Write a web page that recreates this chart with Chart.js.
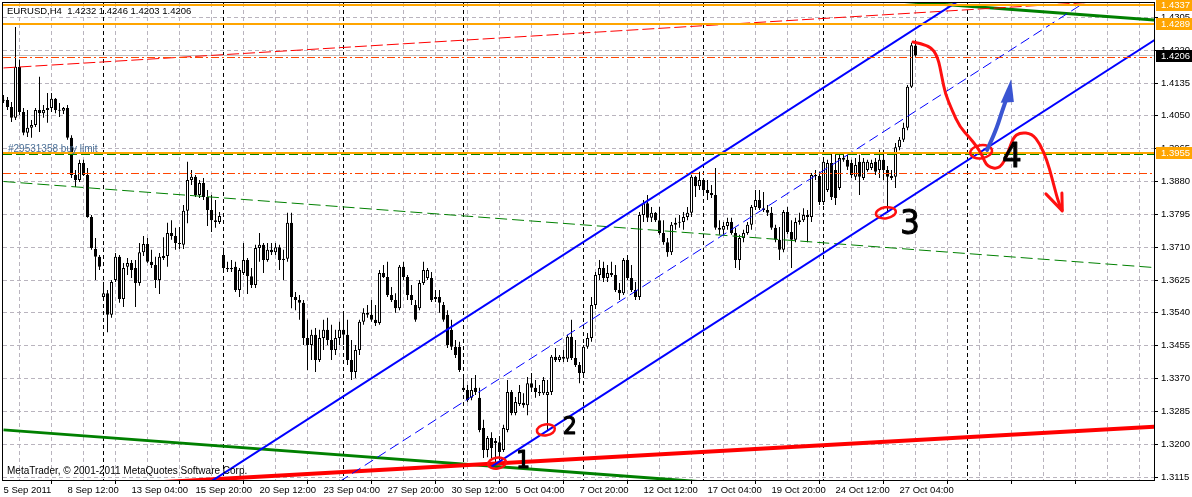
<!DOCTYPE html>
<html>
<head>
<meta charset="utf-8">
<title>EURUSD H4</title>
<script src="https://cdn.jsdelivr.net/npm/chart.js@4.4.1/dist/chart.umd.min.js"></script>
<style>
html,body{margin:0;padding:0;background:#fff;overflow:hidden;}
#wrap{position:relative;width:1192px;height:497px;}
canvas{display:block;}
</style>
</head>
<body>
<div id="wrap"><canvas id="chart" width="1192" height="497"></canvas></div>
<script>
// ================= DATA =================
const symbol = 'EURUSD,H4';
const timeLabels = ['5 Sep 2011','8 Sep 12:00','13 Sep 04:00','15 Sep 20:00','20 Sep 12:00','23 Sep 04:00','27 Sep 20:00','30 Sep 12:00','5 Oct 04:00','7 Oct 20:00','12 Oct 12:00','17 Oct 04:00','19 Oct 20:00','24 Oct 12:00','27 Oct 04:00'];
const barsPerLabel = 16;
const barsPerGrid = 8;
const yTicks = [1.3115,1.3200,1.3285,1.3370,1.3455,1.3540,1.3625,1.3710,1.3795,1.3880,1.3965,1.4050,1.4135,1.4220,1.4305];

const opens = [
1.4091,1.4091,1.4073,1.4045,1.4177,1.4060,1.4006,1.4019,1.4026,1.4065,
1.4057,1.4065,1.4070,1.4094,1.4065,1.4063,1.4070,1.3993,1.3897,1.3884,
1.3928,1.3897,1.3788,1.3705,1.3685,1.3581,1.3591,1.3535,1.3625,1.3685,
1.3576,1.3659,1.3669,1.3656,1.3617,1.3697,1.3718,1.3672,1.3664,1.3625,
1.3682,1.3687,1.3747,1.3739,1.3721,1.3716,1.3804,1.3884,1.3892,1.3845,
1.3876,1.3840,1.3806,1.3780,1.3775,1.3690,1.3656,1.3653,1.3659,1.3599,
1.3643,1.3677,1.3635,1.3612,1.3708,1.3716,1.3677,1.3703,1.3697,1.3710,
1.3677,1.3680,1.3773,1.3581,1.3573,1.3566,1.3475,1.3457,1.3483,1.3418,
1.3475,1.3496,1.3470,1.3444,1.3475,1.3496,1.3483,1.3418,1.3387,1.3444,
1.3517,1.3540,1.3535,1.3522,1.3514,1.3643,1.3633,1.3586,1.3573,1.3552,
1.3659,1.3633,1.3586,1.3560,1.3552,1.3617,1.3630,1.3630,1.3576,1.3581,
1.3560,1.3535,1.3496,1.3452,1.3452,1.3346,1.3340,1.3320,1.3346,1.3320,
1.3242,1.3185,1.3216,1.3208,1.3205,1.3185,1.3237,1.3335,1.3281,1.3304,
1.3307,1.3301,1.3358,1.3346,1.3335,1.3332,1.3327,1.3335,1.3426,1.3418,
1.3426,1.3421,1.3478,1.3423,1.3405,1.3384,1.3452,1.3475,1.3560,1.3638,
1.3656,1.3630,1.3643,1.3638,1.3599,1.3591,1.3677,1.3630,1.3599,1.3581,
1.3793,1.3824,1.3786,1.3799,1.3780,1.3747,1.3723,1.3697,1.3768,1.3773,
1.3775,1.3788,1.3799,1.3892,1.3868,1.3884,1.3858,1.3850,1.3845,1.3760,
1.3755,1.3765,1.3775,1.3747,1.3677,1.3734,1.3747,1.3768,1.3814,1.3832,
1.3811,1.3806,1.3799,1.3760,1.3729,1.3703,1.3801,1.3749,1.3729,1.3775,
1.3780,1.3793,1.3788,1.3897,1.3894,1.3827,1.3858,1.3928,1.3910,1.3863,
1.3941,1.3936,1.3928,1.3892,1.3931,1.3889,1.3910,1.3915,1.3931,1.3910,
1.3936,1.3910,1.3889,1.3892,1.3969,1.3988,1.4019,1.4125,1.4232];
const highs = [
1.4104,1.4099,1.4086,1.4280,1.4195,1.4070,1.4065,1.4039,1.4070,1.4151,
1.4078,1.4109,1.4109,1.4096,1.4083,1.4073,1.4078,1.4000,1.3910,1.3936,
1.3936,1.3915,1.3793,1.3734,1.3690,1.3620,1.3599,1.3625,1.3695,1.3690,
1.3669,1.3682,1.3677,1.3677,1.3721,1.3739,1.3734,1.3703,1.3685,1.3695,
1.3736,1.3773,1.3780,1.3760,1.3762,1.3819,1.3931,1.3910,1.3897,1.3884,
1.3889,1.3858,1.3845,1.3832,1.3801,1.3705,1.3672,1.3677,1.3672,1.3656,
1.3721,1.3682,1.3656,1.3716,1.3747,1.3721,1.3721,1.3721,1.3721,1.3716,
1.3703,1.3799,1.3799,1.3594,1.3586,1.3573,1.3522,1.3496,1.3501,1.3496,
1.3522,1.3527,1.3509,1.3496,1.3517,1.3535,1.3522,1.3470,1.3457,1.3522,
1.3552,1.3560,1.3573,1.3560,1.3651,1.3664,1.3672,1.3607,1.3591,1.3664,
1.3672,1.3638,1.3612,1.3573,1.3625,1.3672,1.3656,1.3646,1.3599,1.3599,
1.3568,1.3547,1.3522,1.3470,1.3465,1.3371,1.3353,1.3371,1.3379,1.3346,
1.3263,1.3221,1.3231,1.3216,1.3221,1.3250,1.3366,1.3340,1.3322,1.3353,
1.3332,1.3374,1.3384,1.3366,1.3353,1.3374,1.3366,1.3431,1.3449,1.3431,
1.3444,1.3483,1.3522,1.3470,1.3413,1.3457,1.3488,1.3581,1.3646,1.3677,
1.3672,1.3664,1.3672,1.3664,1.3617,1.3682,1.3690,1.3664,1.3620,1.3801,
1.3832,1.3845,1.3814,1.3801,1.3814,1.3780,1.3734,1.3775,1.3786,1.3793,
1.3801,1.3814,1.3897,1.3895,1.3905,1.3889,1.3884,1.3871,1.3915,1.3780,
1.3775,1.3786,1.3786,1.3760,1.3742,1.3755,1.3775,1.3819,1.3858,1.3858,
1.3853,1.3819,1.3814,1.3768,1.3762,1.3806,1.3814,1.3780,1.3786,1.3799,
1.3811,1.3806,1.3902,1.3910,1.3905,1.3941,1.3936,1.3954,1.3956,1.3949,
1.3956,1.3949,1.3936,1.3941,1.3949,1.3941,1.3936,1.3936,1.3941,1.3962,
1.3962,1.3920,1.3910,1.3980,1.3995,1.4032,1.4130,1.4239,1.4246];
const lows = [
1.4083,1.4065,1.4034,1.4039,1.4052,1.4000,1.3995,1.3993,1.4021,1.4008,
1.4045,1.4032,1.4060,1.4057,1.4047,1.4055,1.3988,1.3889,1.3866,1.3879,
1.3894,1.3786,1.3703,1.3625,1.3651,1.3573,1.3490,1.3527,1.3620,1.3566,
1.3555,1.3638,1.3630,1.3555,1.3610,1.3687,1.3669,1.3656,1.3604,1.3589,
1.3677,1.3659,1.3729,1.3703,1.3705,1.3705,1.3772,1.3871,1.3840,1.3837,
1.3832,1.3765,1.3749,1.3760,1.3770,1.3651,1.3646,1.3646,1.3594,1.3581,
1.3638,1.3589,1.3604,1.3604,1.3672,1.3643,1.3672,1.3690,1.3690,1.3651,
1.3625,1.3672,1.3552,1.3547,1.3522,1.3457,1.3392,1.3418,1.3387,1.3413,
1.3444,1.3457,1.3418,1.3431,1.3457,1.3457,1.3405,1.3366,1.3371,1.3431,
1.3509,1.3527,1.3517,1.3506,1.3509,1.3630,1.3581,1.3568,1.3540,1.3547,
1.3625,1.3573,1.3560,1.3517,1.3547,1.3612,1.3625,1.3568,1.3568,1.3540,
1.3517,1.3449,1.3444,1.3423,1.3387,1.3335,1.3309,1.3314,1.3327,1.3231,
1.3164,1.3166,1.3164,1.3151,1.3159,1.3180,1.3231,1.3275,1.3275,1.3299,
1.3294,1.3275,1.3335,1.3320,1.3325,1.3327,1.3237,1.3327,1.3413,1.3413,
1.3413,1.3413,1.3418,1.3400,1.3358,1.3379,1.3447,1.3465,1.3550,1.3625,
1.3620,1.3620,1.3633,1.3594,1.3573,1.3586,1.3625,1.3594,1.3573,1.3573,
1.3775,1.3775,1.3775,1.3775,1.3742,1.3716,1.3685,1.3690,1.3755,1.3760,
1.3755,1.3780,1.3788,1.3840,1.3858,1.3845,1.3832,1.3837,1.3755,1.3742,
1.3742,1.3755,1.3742,1.3656,1.3651,1.3723,1.3742,1.3755,1.3806,1.3806,
1.3801,1.3791,1.3755,1.3723,1.3677,1.3697,1.3744,1.3656,1.3723,1.3768,
1.3775,1.3723,1.3775,1.3884,1.3819,1.3819,1.3853,1.3832,1.3819,1.3858,
1.3931,1.3910,1.3889,1.3884,1.3845,1.3884,1.3905,1.3910,1.3897,1.3889,
1.3884,1.3799,1.3884,1.3863,1.3961,1.3982,1.4013,1.4122,1.4203];
const closes = [
1.4089,1.4073,1.4045,1.4177,1.4060,1.4006,1.4019,1.4026,1.4065,1.4057,
1.4065,1.4070,1.4094,1.4065,1.4063,1.4070,1.3993,1.3897,1.3884,1.3928,
1.3897,1.3788,1.3708,1.3685,1.3659,1.3591,1.3535,1.3620,1.3685,1.3576,
1.3656,1.3669,1.3651,1.3617,1.3697,1.3718,1.3672,1.3664,1.3625,1.3685,
1.3687,1.3747,1.3739,1.3721,1.3718,1.3804,1.3884,1.3892,1.3845,1.3876,
1.3840,1.3806,1.3780,1.3775,1.3791,1.3656,1.3653,1.3656,1.3599,1.3651,
1.3677,1.3635,1.3612,1.3708,1.3716,1.3677,1.3703,1.3697,1.3710,1.3677,
1.3680,1.3773,1.3581,1.3573,1.3566,1.3475,1.3457,1.3483,1.3418,1.3475,
1.3496,1.3470,1.3444,1.3475,1.3496,1.3483,1.3418,1.3387,1.3444,1.3517,
1.3540,1.3535,1.3522,1.3514,1.3643,1.3633,1.3586,1.3573,1.3552,1.3659,
1.3633,1.3586,1.3573,1.3522,1.3617,1.3651,1.3651,1.3573,1.3581,1.3566,
1.3522,1.3457,1.3452,1.3431,1.3392,1.3340,1.3314,1.3340,1.3335,1.3237,
1.3185,1.3216,1.3190,1.3203,1.3180,1.3242,1.3335,1.3281,1.3309,1.3335,
1.3301,1.3358,1.3346,1.3335,1.3332,1.3366,1.3335,1.3426,1.3418,1.3426,
1.3421,1.3478,1.3423,1.3405,1.3384,1.3452,1.3475,1.3560,1.3638,1.3656,
1.3630,1.3643,1.3638,1.3599,1.3591,1.3677,1.3630,1.3599,1.3581,1.3793,
1.3824,1.3786,1.3799,1.3780,1.3747,1.3723,1.3697,1.3768,1.3773,1.3775,
1.3788,1.3799,1.3892,1.3868,1.3884,1.3858,1.3850,1.3845,1.3760,1.3755,
1.3765,1.3775,1.3747,1.3677,1.3734,1.3747,1.3768,1.3814,1.3832,1.3811,
1.3806,1.3799,1.3760,1.3729,1.3703,1.3801,1.3749,1.3729,1.3775,1.3780,
1.3793,1.3788,1.3897,1.3894,1.3827,1.3931,1.3928,1.3840,1.3837,1.3941,
1.3936,1.3918,1.3897,1.3923,1.3892,1.3931,1.3931,1.3928,1.3905,1.3936,
1.3910,1.3892,1.3894,1.3969,1.3988,1.4019,1.4125,1.4233,1.4206];

// bar indices of the weekly period separators
const weekSeparators = [25,55,85,115,145,175,205,241];
// horizontal objects
const orangeLevels = [1.4337, 1.4289, 1.3955];
const orderLevel = 1.3950;
const orderText = '#29531358 buy limit';
const stopLevels = [1.4200, 1.3900];
// trend lines: [barIndex, price] end points
const trendRedDash   = [[0,1.4174],[288,1.4354]];
const trendGreenDash = [[0,1.3880],[288,1.3657]];
const trendGreenLow  = [[0,1.3237],[200,1.3083]];
const trendGreenTop  = [[220,1.4350],[288,1.4298]];
const trendRed       = [[40,1.3102],[288,1.3245]];
const channelUpper   = [[50,1.3091],[240,1.4356]];
const channelLower   = [[122,1.3142],[288,1.4248]];
const channelMiddle  = [[84,1.3103],[272,1.4355]];
// hand drawn marks: [barIndex, price]
const circleMarks = [[123.4,1.3151],[135.6,1.3237],[220.6,1.3799],[244.4,1.3957]];
const digitMarks = [['1',129.9,1.3154],['2',141.6,1.3242],['3',226.6,1.3767],['4',252.1,1.3941]];
const redArrowPath = [[227.4,1.4241],[231.6,1.4233],[233.6,1.4202],[234.6,1.4151],[235.4,1.4109],[237.1,1.4065],[239.1,1.4021],[241.6,1.3993],[243.4,1.3969],[244.6,1.3949],[245.9,1.3918],[249.1,1.3912],[251.1,1.3952],[252.4,1.3994],[254.1,1.4007],[257.1,1.4004],[259.1,1.3978],[260.9,1.3934],[262.1,1.3890],[263.6,1.3830],[264.6,1.3806]];
const redArrowHead = [[260.6,1.3848],[264.7,1.3804],[264.6,1.3850]];
const blueArrowPath = [[245.9,1.3962],[247.9,1.4006],[249.6,1.4060],[250.6,1.4090]];
const blueArrowHead = [[249.3,1.4084],[251.9,1.4145],[252.6,1.4086]];

// ================= CHART =================
Chart.defaults.font.family = "'Liberation Sans', Arial, sans-serif";
const xMin = -0.125, xMax = 287.625;
const yMin = 1.310724, yMax = 1.434212;
const gridColor = '#b9b4be';
const lastI = closes.length - 1;

const barIdx = closes.map((c, i) => i);
const bodyData = barIdx.map(i => ({x: i, y: [opens[i], closes[i]]}));
const wickData = barIdx.map(i => ({x: i, y: [lows[i], highs[i]]}));
const bodyFill = barIdx.map(i => closes[i] >= opens[i] ? '#ffffff' : '#000000');
const gridBars = [];
for (let b = 0; b <= 280; b += barsPerGrid) gridBars.push(b);

function lineDs(pts, color, width, dash) {
  return {type: 'line', data: pts.map(p => ({x: p[0], y: p[1]})), borderColor: color,
    borderWidth: width, borderDash: dash || [], pointRadius: 0, fill: false, tension: 0, clip: 0};
}

const P = (chart, pt) => [chart.scales.x.getPixelForValue(pt[0]), chart.scales.y.getPixelForValue(pt[1])];

function hline(ctx, area, y, color, width, dash) {
  ctx.save();
  ctx.strokeStyle = color; ctx.lineWidth = width; ctx.setLineDash(dash || []);
  const yy = (width % 2 === 1) ? Math.floor(y) + 0.5 : Math.round(y);
  ctx.beginPath(); ctx.moveTo(area.left, yy); ctx.lineTo(area.right, yy); ctx.stroke();
  ctx.restore();
}
function smooth(ctx, pts) {
  ctx.beginPath(); ctx.moveTo(pts[0][0], pts[0][1]);
  for (let i = 1; i < pts.length - 1; i++) {
    const mx = (pts[i][0] + pts[i+1][0]) / 2, my = (pts[i][1] + pts[i+1][1]) / 2;
    ctx.quadraticCurveTo(pts[i][0], pts[i][1], mx, my);
  }
  const l = pts[pts.length - 1]; ctx.lineTo(l[0], l[1]); ctx.stroke();
}

const mt4Plugin = {
  id: 'mt4',
  beforeDatasetsDraw(chart) {
    const ctx = chart.ctx, a = chart.chartArea;
    ctx.save();
    ctx.beginPath(); ctx.rect(a.left, a.top, a.right - a.left, a.bottom - a.top); ctx.clip();
    ctx.strokeStyle = '#000'; ctx.lineWidth = 1; ctx.setLineDash([4, 3]);
    weekSeparators.forEach(b => {
      const x = Math.floor(chart.scales.x.getPixelForValue(b)) + 0.5;
      ctx.beginPath(); ctx.moveTo(x, a.top); ctx.lineTo(x, a.bottom); ctx.stroke();
    });
    ctx.setLineDash([]);
    hline(ctx, a, chart.scales.y.getPixelForValue(closes[lastI]), '#c0c0c0', 1);
    ctx.restore();
  },
  afterDatasetsDraw(chart) {
    const ctx = chart.ctx, a = chart.chartArea, ys = chart.scales.y;
    ctx.save();
    ctx.beginPath(); ctx.rect(a.left, a.top, a.right - a.left, a.bottom - a.top); ctx.clip();
    stopLevels.forEach(v => hline(ctx, a, ys.getPixelForValue(v), '#ff4500', 1, [8, 3, 2, 3]));
    hline(ctx, a, ys.getPixelForValue(orderLevel), '#008000', 1, [9, 4]);
    orangeLevels.forEach(v => hline(ctx, a, ys.getPixelForValue(v), '#ffa500', 2));
    ctx.font = "10px 'Liberation Sans', Arial, sans-serif";
    ctx.fillStyle = '#4a6f96'; ctx.textBaseline = 'alphabetic'; ctx.textAlign = 'left';
    ctx.fillText(orderText, a.left + 5, ys.getPixelForValue(orderLevel) - 2.5);

    ctx.lineCap = 'round'; ctx.lineJoin = 'round';
    ctx.strokeStyle = '#ff1010'; ctx.lineWidth = 2.5;
    circleMarks.forEach((c, k) => {
      const p = P(chart, c);
      const rx = k === 3 ? 11 : (k === 2 ? 10 : 9), ry = k === 3 ? 6.5 : 5.5;
      ctx.beginPath(); ctx.ellipse(p[0], p[1], rx, ry, -0.15, 0, Math.PI * 2); ctx.stroke();
    });
    ctx.lineWidth = 3;
    smooth(ctx, redArrowPath.map(q => P(chart, q)));
    const rh = redArrowHead.map(q => P(chart, q));
    ctx.beginPath(); ctx.moveTo(rh[0][0], rh[0][1]); ctx.lineTo(rh[1][0], rh[1][1]); ctx.lineTo(rh[2][0], rh[2][1]); ctx.stroke();
    ctx.strokeStyle = '#3a55d2'; ctx.fillStyle = '#3a55d2'; ctx.lineWidth = 4;
    smooth(ctx, blueArrowPath.map(q => P(chart, q)));
    const bh = blueArrowHead.map(q => P(chart, q));
    ctx.beginPath(); ctx.moveTo(bh[0][0], bh[0][1]); ctx.lineTo(bh[1][0], bh[1][1]); ctx.lineTo(bh[2][0], bh[2][1]); ctx.closePath(); ctx.fill();
    ctx.fillStyle = '#000'; ctx.textAlign = 'center'; ctx.textBaseline = 'middle';
    digitMarks.forEach((d, k) => {
      const p = P(chart, [d[1], d[2]]);
      ctx.font = (k < 2 ? '24px' : '34px') + " 'DejaVu Sans Condensed', 'DejaVu Sans', sans-serif";
      ctx.lineWidth = k < 2 ? 1.2 : 1; ctx.strokeStyle = '#000';
      ctx.fillText(d[0], p[0], p[1]);
      ctx.strokeText(d[0], p[0], p[1]);
    });

    ctx.textAlign = 'left'; ctx.textBaseline = 'alphabetic'; ctx.fillStyle = '#000';
    ctx.font = "10px 'Liberation Sans', Arial, sans-serif";
    ctx.fillText('MetaTrader, \u00a9 2001-2011 MetaQuotes Software Corp.', a.left + 4, a.bottom - 6);
    ctx.font = "9.5px 'Liberation Sans', Arial, sans-serif";
    const f = v => v.toFixed(4);
    ctx.fillText(symbol + '  ' + [opens[lastI], highs[lastI], lows[lastI], closes[lastI]].map(f).join(' '), a.left + 4, a.top + 11);
    ctx.restore();
  },
  afterDraw(chart) {
    const ctx = chart.ctx, a = chart.chartArea, ys = chart.scales.y;
    ctx.save();
    ctx.strokeStyle = '#000'; ctx.lineWidth = 1;
    ctx.strokeRect(a.left - 0.5, a.top - 0.5, a.right - a.left + 1, a.bottom - a.top + 1);
    ctx.font = "9.5px 'Liberation Sans', Arial, sans-serif";
    ctx.textBaseline = 'middle'; ctx.textAlign = 'left';
    const tags = orangeLevels.map(v => [v, '#ffa500']).concat([[closes[lastI], '#000000']]);
    tags.forEach(t => {
      const y = Math.round(ys.getPixelForValue(t[0]));
      ctx.fillStyle = t[1]; ctx.fillRect(a.right + 2, y - 6, chart.width - a.right - 2, 12);
      ctx.fillStyle = '#ffffff'; ctx.fillText(t[0].toFixed(4), a.right + 7, y + 0.5);
    });
    ctx.restore();
  }
};

new Chart(document.getElementById('chart'), {
  type: 'bar',
  data: {
    datasets: [
      lineDs(channelUpper, '#0000ff', 2),
      lineDs(channelLower, '#0000ff', 2),
      lineDs(channelMiddle, '#0000ff', 1, [10, 5]),
      lineDs(trendRed, '#ff0000', 4),
      lineDs(trendRedDash, '#ff0000', 1, [12, 4]),
      lineDs(trendGreenLow, '#008000', 3),
      lineDs(trendGreenTop, '#008000', 3),
      lineDs(trendGreenDash, '#008000', 1, [12, 5]),
      {type: 'bar', data: bodyData, backgroundColor: bodyFill, borderColor: '#000', borderWidth: 1,
        borderSkipped: false, barThickness: 3, grouped: false, minBarLength: 1, inflateAmount: 0},
      {type: 'bar', data: wickData, backgroundColor: '#000', borderWidth: 0,
        barThickness: 1, grouped: false, inflateAmount: 0}
    ]
  },
  options: {
    responsive: false, animation: false, events: [],
    layout: {padding: {left: 3, top: 3, right: 0, bottom: 0}},
    plugins: {legend: {display: false}, tooltip: {enabled: false}},
    scales: {
      x: {
        type: 'linear', min: xMin, max: xMax, offset: false,
        afterBuildTicks: s => { s.ticks = gridBars.map(v => ({value: v})); },
        afterFit: s => { s.height = 17; s.paddingLeft = 0; s.paddingRight = 0; },
        grid: {color: gridColor, lineWidth: 1, drawTicks: true, tickLength: 4, tickWidth: 1,
          tickColor: c => (c.tick && c.tick.value % barsPerLabel === 0) ? '#000' : 'rgba(0,0,0,0)'},
        border: {display: false, dash: [4, 3]},
        ticks: {autoSkip: false, maxRotation: 0, minRotation: 0, align: 'start', padding: 1, color: '#000',
          font: {size: 9.5},
          callback: v => (v % barsPerLabel === 0 && timeLabels[v / barsPerLabel]) ? timeLabels[v / barsPerLabel] : ''}
      },
      y: {
        type: 'linear', position: 'right', min: yMin, max: yMax,
        afterBuildTicks: s => { s.ticks = yTicks.map(v => ({value: v})); },
        afterFit: s => { s.width = 38; s.paddingTop = 0; s.paddingBottom = 0; },
        grid: {color: gridColor, lineWidth: 1, drawTicks: true, tickLength: 4, tickColor: '#000'},
        border: {display: false, dash: [4, 3]},
        ticks: {padding: 3, color: '#000', font: {size: 9.5}, callback: v => Number(v).toFixed(4)}
      }
    }
  },
  plugins: [mt4Plugin]
});
</script>
</body>
</html>
